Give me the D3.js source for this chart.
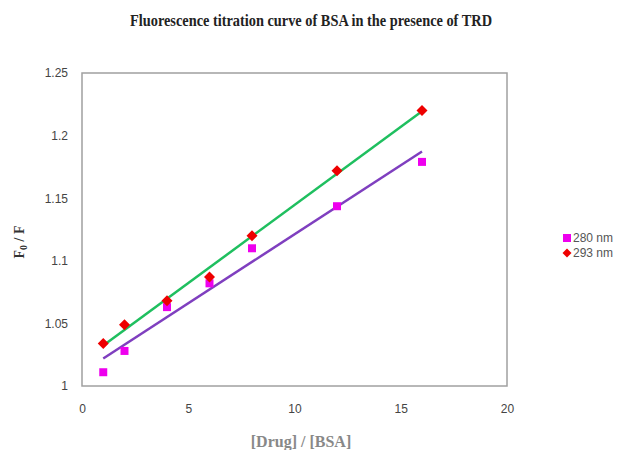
<!DOCTYPE html>
<html><head><meta charset="utf-8">
<script src="https://cdn.jsdelivr.net/npm/d3@7"></script>
<style>body{margin:0;background:#fff;}svg{display:block;}</style>
</head><body><svg id="c" width="621" height="450"></svg>
<script>
const xValues = [1, 2, 4, 6, 8, 12, 16];
const seriesNames = ["280 nm", "293 nm"];
const values280 = [1.011, 1.028, 1.063, 1.082, 1.110, 1.1436, 1.179];
const values293 = [1.034, 1.049, 1.068, 1.087, 1.120, 1.172, 1.220];
const xTicks = [0, 5, 10, 15, 20];
const yTicks = [1, 1.05, 1.1, 1.15, 1.2, 1.25];
const titleText = "Fluorescence titration curve of BSA in the presence of TRD";

const svg = d3.select("#c");
const m = {l: 82, t: 73, r: 507, b: 386};
const x = d3.scaleLinear().domain([0, 20]).range([m.l, m.r]);
const y = d3.scaleLinear().domain([1, 1.25]).range([m.b, m.t]);

svg.append("text").attr("x", 311).attr("y", 26).attr("text-anchor", "middle")
  .attr("font-family", "Liberation Serif").attr("font-weight", "bold").attr("font-size", 17)
  .attr("fill", "#222").attr("textLength", 362).attr("lengthAdjust", "spacingAndGlyphs")
  .text(titleText);

svg.append("rect").attr("x", m.l).attr("y", m.t).attr("width", m.r - m.l).attr("height", m.b - m.t)
  .attr("fill", "none").attr("stroke", "#a0a0a0").attr("stroke-width", 1.5);

const xa = svg.append("g").attr("transform", `translate(0,${m.b})`)
  .call(d3.axisBottom(x).tickValues(xTicks).tickSize(0).tickPadding(18).tickFormat(d3.format("d")));
const ya = svg.append("g").attr("transform", `translate(${m.l},0)`)
  .call(d3.axisLeft(y).tickValues(yTicks).tickSize(0).tickPadding(14).tickFormat(d => String(+d.toFixed(2))));
[xa, ya].forEach(a => {
  a.select(".domain").remove();
  a.selectAll("text").attr("font-family", "Liberation Sans").attr("font-size", 12).attr("fill", "#444");
});

function fit(xs, ys) {
  const mx = d3.mean(xs), my = d3.mean(ys);
  const sxy = d3.sum(xs, (v, i) => (v - mx) * (ys[i] - my));
  const sxx = d3.sum(xs, v => (v - mx) ** 2);
  const s = sxy / sxx;
  return v => my + s * (v - mx);
}
const f280 = fit(xValues, values280), f293 = fit(xValues, values293);
const xr = d3.extent(xValues);
const line = d3.line().x(d => x(d[0])).y(d => y(d[1]));
svg.append("path").datum(xr.map(v => [v, f280(v)])).attr("d", line)
  .attr("stroke", "#7f3fbf").attr("stroke-width", 2.5).attr("fill", "none");
svg.append("path").datum(xr.map(v => [v, f293(v)])).attr("d", line)
  .attr("stroke", "#1fbf5f").attr("stroke-width", 2.5).attr("fill", "none");

const sq = d3.symbol().type(d3.symbolSquare).size(64);
const diamond = r => `M0,${-r}L${r},0L0,${r}L${-r},0Z`;
svg.append("g").selectAll("path").data(xValues.map((v, i) => [v, values280[i]])).join("path")
  .attr("d", sq).attr("transform", d => `translate(${x(d[0])},${y(d[1])})`).attr("fill", "#ee00ee");
svg.append("g").selectAll("path").data(xValues.map((v, i) => [v, values293[i]])).join("path")
  .attr("d", diamond(5.5)).attr("transform", d => `translate(${x(d[0])},${y(d[1])})`).attr("fill", "#ee0000");

const lg = svg.append("g");
lg.append("path").attr("d", sq).attr("transform", "translate(567,238)").attr("fill", "#ee00ee");
lg.append("path").attr("d", diamond(4.5)).attr("transform", "translate(567,253)").attr("fill", "#ee0000");
seriesNames.forEach((n, i) => {
  lg.append("text").attr("x", 573).attr("y", 242 + i * 15).attr("font-family", "Liberation Sans")
    .attr("font-size", 12).attr("fill", "#555").text(n);
});

svg.append("text").attr("transform", "translate(24,242) rotate(-90)").attr("text-anchor", "middle")
  .attr("font-family", "Liberation Serif").attr("font-weight", "bold").attr("font-size", 14).attr("fill", "#333")
  .call(t => { t.append("tspan").text("F");
    t.append("tspan").attr("font-size", 10).attr("dy", 3).text("0");
    t.append("tspan").attr("dy", -3).text(" / F"); });

svg.append("text").attr("x", 301).attr("y", 447).attr("text-anchor", "middle")
  .attr("font-family", "Liberation Serif").attr("font-weight", "bold").attr("font-size", 16).attr("fill", "#888")
  .text("[Drug] / [BSA]");
</script></body></html>
